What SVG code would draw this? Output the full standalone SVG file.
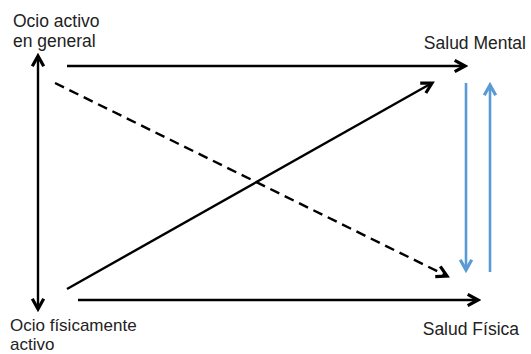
<svg xmlns="http://www.w3.org/2000/svg" width="531" height="354" viewBox="0 0 531 354">
<style>
.lbl{font-family:"Liberation Sans",Arial,sans-serif;font-size:17.5px;fill:#222}
.sm{font-size:17px}
.blk{stroke:#000;stroke-width:2.4;fill:none}
.blue{stroke:#5b9bd5;stroke-width:2.6;fill:none}
</style>
<defs>
<marker id="ah" markerUnits="userSpaceOnUse" markerWidth="16" markerHeight="16" refX="11" refY="6" orient="auto-start-reverse" viewBox="0 0 14 12">
<path d="M2,1 L11,6 L2,11" fill="none" stroke="#000" stroke-width="2.8" stroke-linejoin="miter"/>
</marker>
<marker id="ahb" markerUnits="userSpaceOnUse" markerWidth="16" markerHeight="16" refX="11" refY="6" orient="auto" viewBox="0 0 14 12">
<path d="M2,1 L11,6 L2,11" fill="none" stroke="#5b9bd5" stroke-width="2.8"/>
</marker>
</defs>
<g id="node-ocio-activo"><text class="lbl" x="13" y="27">Ocio activo</text><text class="lbl" x="13" y="47">en general</text></g>
<g id="node-salud-mental"><text class="lbl" x="526" y="49" text-anchor="end">Salud Mental</text></g>
<g id="node-ocio-fisico"><text class="lbl sm" x="10" y="331">Ocio físicamente</text><text class="lbl sm" x="10" y="350">activo</text></g>
<g id="node-salud-fisica"><text class="lbl" x="519" y="335" text-anchor="end">Salud Física</text></g>
<g id="connectors">
<line class="blk" x1="38" y1="56" x2="38" y2="309" marker-start="url(#ah)" marker-end="url(#ah)"/>
<line class="blk" x1="67" y1="66" x2="465" y2="66" marker-end="url(#ah)"/>
<line class="blk" x1="55" y1="83" x2="447" y2="276" stroke-dasharray="10,6" marker-end="url(#ah)"/>
<line class="blk" x1="67" y1="289" x2="432" y2="83" marker-end="url(#ah)"/>
<line class="blk" x1="78" y1="300" x2="478" y2="300" marker-end="url(#ah)"/>
<line class="blue" x1="466" y1="83" x2="466" y2="270" marker-end="url(#ahb)"/>
<line class="blue" x1="490" y1="272" x2="490" y2="85" marker-end="url(#ahb)"/>
</g>
</svg>
